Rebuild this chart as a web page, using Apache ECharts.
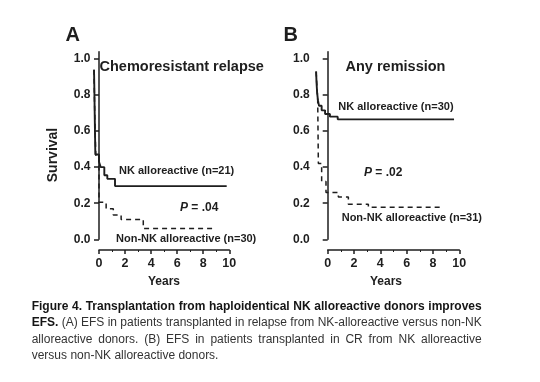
<!DOCTYPE html>
<html><head><meta charset="utf-8">
<script src="https://cdn.jsdelivr.net/npm/echarts@6/dist/echarts.min.js"></script>
<style>html,body{margin:0;padding:0;background:#fff}#c{width:540px;height:382px}</style>
</head><body><div id="c"></div>
<script>
// ---- data (years, survival) ----
const nkRelapse = [[-0.38,0.94],[-0.36,0.86],[-0.34,0.76],[-0.32,0.66],[-0.30,0.57],[-0.28,0.47],[0.0,0.43],[0.13,0.40],[0.41,0.355],[0.64,0.335],[1.23,0.295],[9.8,0.295]];
const nonNkRelapse = [[-0.38,0.94],[-0.35,0.80],[-0.32,0.68],[-0.28,0.56],[-0.24,0.46],[0.0,0.205],[0.55,0.17],[1.1,0.135],[1.7,0.11],[3.4,0.06],[8.77,0.06]];
const nkRemission = [[-0.88,0.93],[-0.85,0.87],[-0.80,0.81],[-0.74,0.77],[-0.66,0.74],[-0.46,0.715],[-0.2,0.695],[0.17,0.68],[0.76,0.665],[9.6,0.665]];
const nonNkRemission = [[-0.88,0.93],[-0.82,0.85],[-0.76,0.77],[-0.71,0.42],[-0.46,0.32],[-0.13,0.26],[0.81,0.235],[1.57,0.195],[3.09,0.178],[8.66,0.178]];
const yTicks = [0,0.2,0.4,0.6,0.8,1.0];
const xTicks = [0,2,4,6,8,10];
const panelTitles = ['Chemoresistant relapse','Any remission'];
const panelLetters = ['A','B'];
const nkLabels = ['NK alloreactive (n=21)','NK alloreactive (n=30)'];
const nonNkLabels = ['Non-NK alloreactive (n=30)','Non-NK alloreactive (n=31)'];
const pValues = ['.04','.02'];
const xTitle = 'Years';
const yTitle = 'Survival';
const captionLines = [
  [['Figure 4. Transplantation from haploidentical NK alloreactive donors improves', true]],
  [['EFS.', true], ['(A) EFS in patients transplanted in relapse from NK-alloreactive versus non-NK', false]],
  [['alloreactive donors. (B) EFS in patients transplanted in CR from NK alloreactive', false]],
  [['versus non-NK alloreactive donors.', false]]
];

const FF = '"Liberation Sans", Arial, sans-serif';
const INK = '#1e1e1e';
const chart = echarts.init(document.getElementById('c'));

const yTop = 51.7, yH = 187.6, yMax = 1.04;
const panels = [
  {left:93.5, width:135.8, xmin:-0.42, axLeft:99, axWidth:130.3},
  {left:312.7, width:146.6, xmin:-1.14, axLeft:327.7, axWidth:131.6}
];
const grids=[], xAxes=[], yAxes=[];
panels.forEach((p,i)=>{
  grids.push({left:p.left, top:yTop, width:p.width, height:yH});
  grids.push({left:p.axLeft, top:240, width:p.axWidth, height:10});
  xAxes.push({type:'value', gridIndex:2*i, min:p.xmin, max:10, show:false});
  xAxes.push({type:'value', gridIndex:2*i+1, min:0, max:10, interval:2,
    axisLine:{show:true, lineStyle:{color:INK, width:1.5}},
    axisTick:{show:true, length:4, inside:false, lineStyle:{color:INK, width:1.5}},
    minorTick:{show:true, splitNumber:2, length:2, lineStyle:{color:INK}},
    splitLine:{show:false},
    axisLabel:{color:INK, fontFamily:FF, fontWeight:'bold', fontSize:12.5, margin:7,
      customValues:xTicks}});
  yAxes.push({type:'value', gridIndex:2*i, min:0, max:yMax,
    axisLine:{show:true, lineStyle:{color:INK, width:1.5}},
    axisTick:{show:true, length:5, customValues:yTicks, lineStyle:{color:INK, width:1.5}},
    splitLine:{show:false},
    axisLabel:{customValues:yTicks, color:INK, fontFamily:FF, fontWeight:'bold', fontSize:12, margin:3,
      formatter:v=>v.toFixed(1)}});
  yAxes.push({type:'value', gridIndex:2*i+1, show:false, min:0, max:1});
});

function line(data, xi, dashed){
  return {type:'line', xAxisIndex:xi, yAxisIndex:xi, data:data, step:'end', showSymbol:false, symbol:'none',
    silent:true, animation:false,
    lineStyle:{color:INK, width:dashed?1.5:1.9, type:dashed?[5,4]:'solid'}};
}
const series = [
  line(nkRelapse,0,false), line(nonNkRelapse,0,true),
  line(nkRemission,2,false), line(nonNkRemission,2,true)
];

const graphic = [];
function txt(text,x,y,size,opts){
  opts=opts||{};
  graphic.push({type:'text', x:x, y:y, rotation:opts.rot||0, silent:true,
    style:{text:text, font:(opts.italic?'italic ':'')+(opts.bold===false?'':'bold ')+size+'px '+FF,
      fill:opts.fill||INK, align:opts.align||'center', verticalAlign:'middle', rich:opts.rich}});
}
// panel letters, titles, axis titles
txt(panelLetters[0],72.7,35,20); txt(panelLetters[1],290.7,35,20);
txt(panelTitles[0],99.5,66.7,14.5,{align:'left'});
txt(panelTitles[1],395.5,66.7,14.5);
txt(yTitle,53.3,155,14,{rot:Math.PI/2});
txt(xTitle,164,281.5,12);
txt(xTitle,386,281.5,12);
// annotations
txt(nkLabels[0],119,170.7,11,{align:'left'});
txt(nonNkLabels[0],116,238.7,11,{align:'left'});
txt('{i|P} = '+pValues[0],180,208,12,{align:'left', rich:{i:{fontStyle:'italic',fontWeight:'bold',fontSize:12,fontFamily:FF,fill:INK}}});
txt(nkLabels[1],338.3,107.3,11,{align:'left'});
txt(nonNkLabels[1],341.7,217.7,11,{align:'left'});
txt('{i|P} = '+pValues[1],364,172.7,12,{align:'left', rich:{i:{fontStyle:'italic',fontWeight:'bold',fontSize:12,fontFamily:FF,fill:INK}}});

// caption with justification
const cv=document.createElement('canvas').getContext('2d');
const capX=31.7, capW=450, capY=[306.5,323,339.5,356], capSize=12;
captionLines.forEach((segs,li)=>{
  const words=[];
  segs.forEach(([t,b])=>t.split(' ').forEach(w=>words.push({w:w,b:b})));
  words.forEach(o=>{cv.font=(o.b?'bold ':'')+capSize+'px '+FF; o.width=cv.measureText(o.w).width;});
  const total=words.reduce((a,o)=>a+o.width,0);
  cv.font=capSize+'px '+FF; const sp=cv.measureText(' ').width;
  const last = li===captionLines.length-1;
  const gap = last ? sp : (capW-total)/(words.length-1);
  let x=capX;
  words.forEach(o=>{
    txt(o.w,x,capY[li],capSize,{align:'left', bold:o.b, fill:o.b?'#151515':'#333'});
    x+=o.width+gap;
  });
});

chart.setOption({animation:false, backgroundColor:'#fff', grid:grids, xAxis:xAxes, yAxis:yAxes, series:series, graphic:graphic});
</script></body></html>
